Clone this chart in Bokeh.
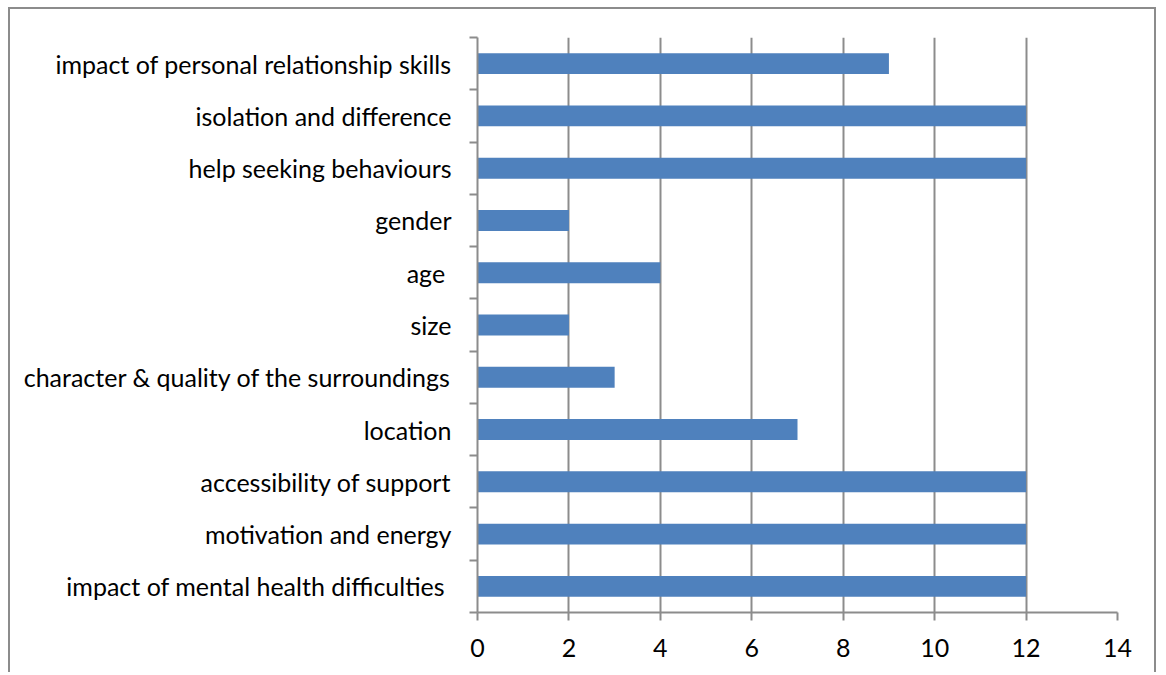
from bokeh.plotting import figure
from bokeh.models import ColumnDataSource, FixedTicker, Range1d
from bokeh.embed import file_html
from bokeh.resources import INLINE

# Themes, listed bottom to top, with the number of mentions of each
categories = [
    "impact of mental health difficulties ",
    "motivation and energy",
    "accessibility of support",
    "location",
    "character & quality of the surroundings",
    "size",
    "age ",
    "gender",
    "help seeking behaviours",
    "isolation and difference",
    "impact of personal relationship skills",
]
counts = [12, 12, 12, 7, 3, 2, 4, 2, 12, 12, 9]
x_ticks = [0, 2, 4, 6, 8, 10, 12, 14]

GRID = "#8c8c8c"
BAR = "#4f81bd"
FONT = "Lato"
FONT_SIZE = "25px"

centers = [i + 0.5 for i in range(len(categories))]
source = ColumnDataSource(data=dict(y=centers, count=counts, name=categories))

p = figure(
    width=1148, height=665,
    x_range=Range1d(0, 14), y_range=Range1d(0, len(categories)),
    output_backend="svg", toolbar_location=None,
    min_border_left=467, min_border_right=41,
    min_border_top=28, min_border_bottom=62,
)
p.styles = {
    "border-left": "2px solid #8c8c8c",
    "border-right": "2px solid #8c8c8c",
    "border-top": "2px solid #8c8c8c",
    "margin-left": "8px",
    "margin-top": "7px",
}
p.outline_line_color = None
p.background_fill_color = "white"
p.border_fill_color = "white"

p.hbar(y="y", right="count", left=0, height=0.4, source=source,
       fill_color=BAR, line_color=None)

# x axis: ticks every 2, vertical grid lines
p.xaxis.ticker = FixedTicker(ticks=x_ticks)
p.xaxis.axis_line_color = GRID
p.xaxis.axis_line_width = 2
p.xaxis.major_tick_line_color = GRID
p.xaxis.major_tick_line_width = 2
p.xaxis.major_tick_out = 8
p.xaxis.major_tick_in = 0
p.xaxis.minor_tick_line_color = None
p.xaxis.major_label_standoff = 18
p.xaxis.major_label_text_font = FONT
p.xaxis.major_label_text_font_size = FONT_SIZE
p.xaxis.major_label_text_color = "black"

p.xgrid.ticker = FixedTicker(ticks=x_ticks[1:])
p.xgrid.grid_line_color = GRID
p.xgrid.grid_line_width = 2
p.ygrid.grid_line_color = None

# y axis: labels at category centres, tick marks at category boundaries
p.yaxis.ticker = FixedTicker(ticks=centers,
                             minor_ticks=list(range(len(categories) + 1)))
p.yaxis.major_label_overrides = {c: n for c, n in zip(centers, categories)}
p.yaxis.axis_line_color = GRID
p.yaxis.axis_line_width = 2
p.yaxis.major_tick_line_color = None
p.yaxis.major_tick_out = 0
p.yaxis.major_tick_in = 0
p.yaxis.minor_tick_line_color = GRID
p.yaxis.minor_tick_line_width = 2
p.yaxis.minor_tick_out = 8
p.yaxis.minor_tick_in = 0
p.yaxis.major_label_standoff = 18
p.yaxis.major_label_text_font = FONT
p.yaxis.major_label_text_font_size = FONT_SIZE
p.yaxis.major_label_text_color = "black"

open("out.html", "w").write(file_html(p, INLINE))
